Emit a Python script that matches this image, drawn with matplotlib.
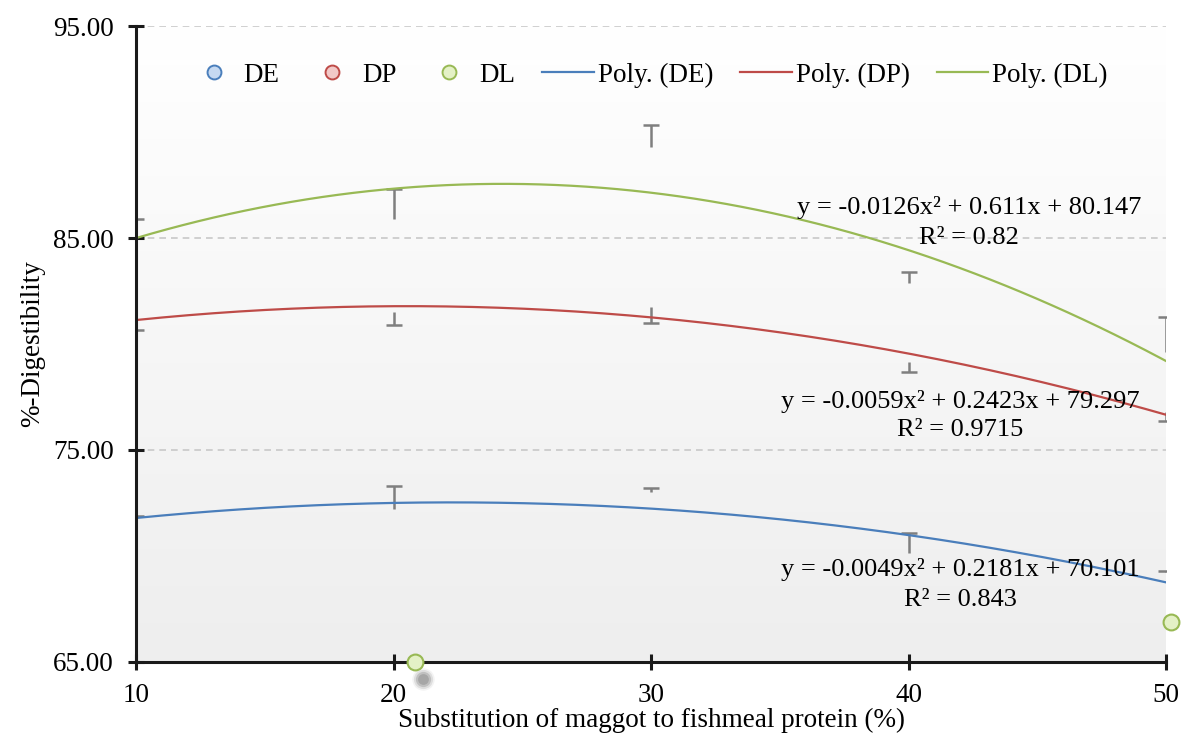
import numpy as np
import matplotlib
matplotlib.use("Agg")
import matplotlib.pyplot as plt
from matplotlib.lines import Line2D

plt.rcParams['font.family'] = ['Liberation Serif', 'DejaVu Serif']

# substitution levels (%)
x = [10, 20, 30, 40, 50]

# means, with one-sided error (+ up / - down)
de_mean = [71.84, 72.22, 73.02, 70.14, 69.25]
de_err = [0.06, 1.08, 0.18, 0.94, 0.06]
dp_mean = [81.13, 81.51, 81.75, 79.15, 76.80]
dp_err = [-0.47, -0.60, -0.75, -0.47, -0.43]
dl_mean = [85.00, 85.90, 89.30, 82.88, 79.60]
dl_err = [0.90, 1.40, 1.03, 0.52, 1.65]

# polynomial trendline coefficients shown on the chart (a, b, c)
de_poly = [-0.0049, 0.2181, 70.101]
dp_poly = [-0.0059, 0.2423, 79.297]
dl_poly = [-0.0126, 0.611, 80.147]

de_label = ['y = -0.0049x\u00b2 + 0.2181x + 70.101', 'R\u00b2 = 0.843']
dp_label = ['y = -0.0059x\u00b2 + 0.2423x + 79.297', 'R\u00b2 = 0.9715']
dl_label = ['y = -0.0126x\u00b2 + 0.611x + 80.147', 'R\u00b2 = 0.82']

# stray DL markers visible at the axis edges
stray_x = [20.85, 50.2]
stray_y = [65.0, 66.9]

blue = '#4a7ebb'
red = '#be4b48'
green = '#98b954'
fills = {'DE': '#c6d9f1', 'DP': '#f2c9c8', 'DL': '#e4f1c6'}

fig = plt.figure(figsize=(11.84, 7.37), dpi=100)
ax = fig.add_axes([0.1149, 0.1018, 0.8699, 0.8629])

# gradient plot area
grad = np.linspace(0, 1, 256).reshape(-1, 1)
ax.imshow(grad, extent=[0, 1, 0, 1], transform=ax.transAxes, aspect='auto',
          cmap=matplotlib.colors.LinearSegmentedColormap.from_list('g', ['#eeeeee', '#ffffff']),
          origin='lower', zorder=0)

ax.set_xlim(10, 50)
ax.set_ylim(65, 95)
ax.set_yticks([65, 75, 85, 95])
ax.set_yticklabels(['%.2f' % v for v in [65, 75, 85, 95]])
ax.set_xticks(x)

for v in [75, 85, 95]:
    ax.axhline(v, color='#c8c8c8', lw=1.2, ls=(0, (4, 3)), zorder=1)

# error bars, one-sided with a cap only at the far end
for m, e in [(de_mean, de_err), (dp_mean, dp_err), (dl_mean, dl_err)]:
    m = np.array(m)
    end = m + np.array(e)
    ax.vlines(x, m, end, color='#7f7f7f', lw=1.8, zorder=2)
    ax.plot(x, end, ls='none', marker='_', ms=11, mew=1.8, color='#7f7f7f', zorder=2)

xs = np.linspace(10, 50, 200)
for p, c in [(de_poly, blue), (dp_poly, red), (dl_poly, green)]:
    ax.plot(xs, np.polyval(p, xs), color=c, lw=1.6, zorder=3)

ax.scatter(stray_x, stray_y, s=130, facecolor=fills['DL'], edgecolor=green,
           linewidth=1.5, zorder=6, clip_on=False)
# soft shadow below the first stray marker
for sz, a in [(260, 0.08), (190, 0.15), (120, 0.25), (60, 0.3)]:
    ax.scatter([21.16], [64.2], s=sz, color='#6a6a6a', alpha=a, lw=0,
               zorder=5, clip_on=False)

for lab, xx, y1, y2 in [(dl_label, 42.35, 86.42, 85.0),
                        (dp_label, 42.0, 77.31, 75.94),
                        (de_label, 42.0, 69.34, 67.92)]:
    ax.text(xx, y1, lab[0], ha='center', va='center', fontsize=19, zorder=4)
    ax.text(xx, y2, lab[1], ha='center', va='center', fontsize=19, zorder=4)

for s in ['top', 'right']:
    ax.spines[s].set_visible(False)
for s in ['left', 'bottom']:
    ax.spines[s].set_linewidth(2.2)
    ax.spines[s].set_color('#1a1a1a')
    ax.spines[s].set_zorder(5)
ax.tick_params(direction='inout', length=12, width=2.2, color='#1a1a1a',
               labelsize=19.5)
ax.tick_params(axis='y', pad=10)
ax.tick_params(axis='x', pad=9)

ax.set_ylabel('%-Digestibility', fontsize=19.5, labelpad=6)
ax.set_xlabel('Substitution of maggot to fishmeal protein (%)', fontsize=19.5, labelpad=0)

handles = [
    Line2D([], [], ls='none', marker='o', ms=10, mfc=fills['DE'], mec=blue, mew=1.4),
    Line2D([], [], ls='none', marker='o', ms=10, mfc=fills['DP'], mec=red, mew=1.4),
    Line2D([], [], ls='none', marker='o', ms=10, mfc=fills['DL'], mec=green, mew=1.4),
    Line2D([], [], color=blue, lw=1.6),
    Line2D([], [], color=red, lw=1.6),
    Line2D([], [], color=green, lw=1.6),
]
labels = ['DE', 'DP', 'DL', 'Poly. (DE)', 'Poly. (DP)', 'Poly. (DL)']
ax.legend(handles, labels, loc='center', bbox_to_anchor=(0.497, 0.923), ncol=6,
          frameon=False, fontsize=19.5, handlelength=1.9, handletextpad=0.15,
          columnspacing=1.0)

fig.savefig('out.png', dpi=100)
